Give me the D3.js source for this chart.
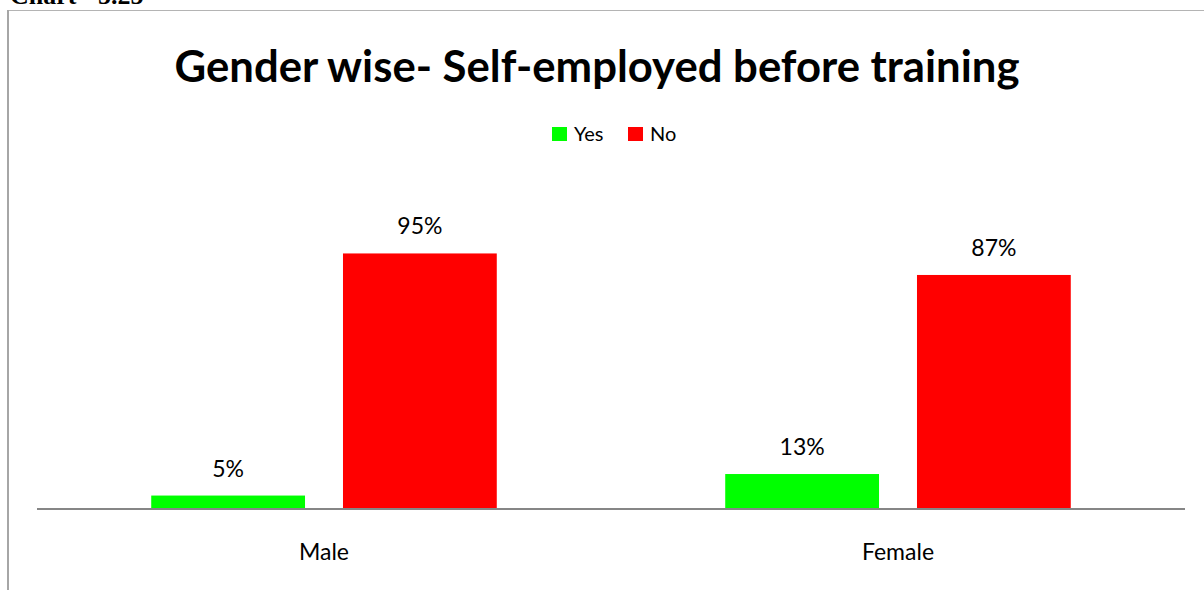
<!DOCTYPE html>
<html>
<head>
<meta charset="utf-8">
<script src="https://cdn.jsdelivr.net/npm/d3@7"></script>
<style>
  html, body { margin: 0; padding: 0; background: #fff; }
  svg { display: block; }
</style>
</head>
<body>
<svg id="chart" width="1204" height="590"></svg>
<script>
// Share of respondents who were self-employed before training, by gender
const categories = ["Male", "Female"];
const seriesNames = ["Yes", "No"];
const yesValues = [5, 13];
const noValues = [95, 87];
const seriesColors = ["#00ff00", "#ff0000"];
const chartTitle = "Gender wise- Self-employed before training";
const captionText = "Chart - 5.25";

const rows = categories.map((c, i) => ({ category: c, values: [yesValues[i], noValues[i]] }));

const svg = d3.select("#chart");
const W = 1204, H = 590;
const plot = { left: 37, right: 1185, base: 509, top: 240 };
const labelFont = "Lato, 'Open Sans', sans-serif";

svg.append("rect").attr("width", W).attr("height", H).attr("fill", "#fff");

// Caption above the frame (runs past the top of the page)
svg.append("text")
  .attr("x", 10).attr("y", 4)
  .attr("font-family", "'Liberation Serif', serif")
  .attr("font-weight", "bold")
  .attr("font-size", 26)
  .attr("fill", "#000")
  .text(captionText);

// Frame edges
svg.append("line").attr("x1", 8).attr("x2", W).attr("y1", 10.5).attr("y2", 10.5)
  .attr("stroke", "#b4b4b4").attr("stroke-width", 1);
svg.append("line").attr("x1", 8).attr("x2", 8).attr("y1", 10).attr("y2", H)
  .attr("stroke", "#a6a6a6").attr("stroke-width", 2);

// Title, sized to its measured width
const title = svg.append("text")
  .attr("x", 597).attr("y", 82)
  .attr("text-anchor", "middle")
  .attr("font-family", labelFont)
  .attr("font-weight", "bold")
  .attr("font-size", 40)
  .attr("fill", "#000")
  .text(chartTitle);
const tw = title.node().getComputedTextLength();
title.attr("font-size", 40 * 845 / tw);

// Legend
const legendItems = [
  { name: seriesNames[0], color: seriesColors[0], x: 552 },
  { name: seriesNames[1], color: seriesColors[1], x: 628 }
];
const lg = svg.append("g");
legendItems.forEach(d => {
  lg.append("rect").attr("x", d.x).attr("y", 127).attr("width", 15).attr("height", 14).attr("fill", d.color);
  lg.append("text").attr("x", d.x + 22).attr("y", 141)
    .attr("font-family", labelFont).attr("font-size", 20).attr("fill", "#000")
    .text(d.name);
});

// Scales
const x0 = d3.scaleBand().domain(categories).range([plot.left, plot.right]);
const x1 = d3.scaleBand().domain(seriesNames)
  .range([x0.bandwidth() * 0.199, x0.bandwidth() * 0.801])
  .paddingInner(0.198);
const y = d3.scaleLinear().domain([0, 100]).range([plot.base, plot.top]);

// Bars
const groups = svg.append("g").selectAll("g").data(rows).join("g")
  .attr("transform", d => `translate(${x0(d.category)},0)`);

groups.selectAll("rect").data(d => d.values.map((v, i) => ({ series: seriesNames[i], value: v, color: seriesColors[i] })))
  .join("rect")
  .attr("x", d => x1(d.series))
  .attr("width", x1.bandwidth())
  .attr("y", d => y(d.value))
  .attr("height", d => y(0) - y(d.value))
  .attr("fill", d => d.color);

// Data labels
groups.selectAll("text").data(d => d.values.map((v, i) => ({ series: seriesNames[i], value: v })))
  .join("text")
  .attr("x", d => x1(d.series) + x1.bandwidth() / 2)
  .attr("y", d => y(d.value) - 19)
  .attr("text-anchor", "middle")
  .attr("font-family", labelFont)
  .attr("font-size", 23)
  .attr("fill", "#000")
  .text(d => d.value + "%");

// Category axis
const axis = svg.append("g").attr("transform", `translate(0,${plot.base})`)
  .call(d3.axisBottom(x0).tickSize(0).tickPadding(35));
axis.select(".domain").attr("stroke", "#868686").attr("stroke-width", 2)
  .attr("d", `M${plot.left},0H${plot.right}`);
axis.selectAll("text")
  .attr("font-family", labelFont).attr("font-size", 23).attr("fill", "#000");
</script>
</body>
</html>
